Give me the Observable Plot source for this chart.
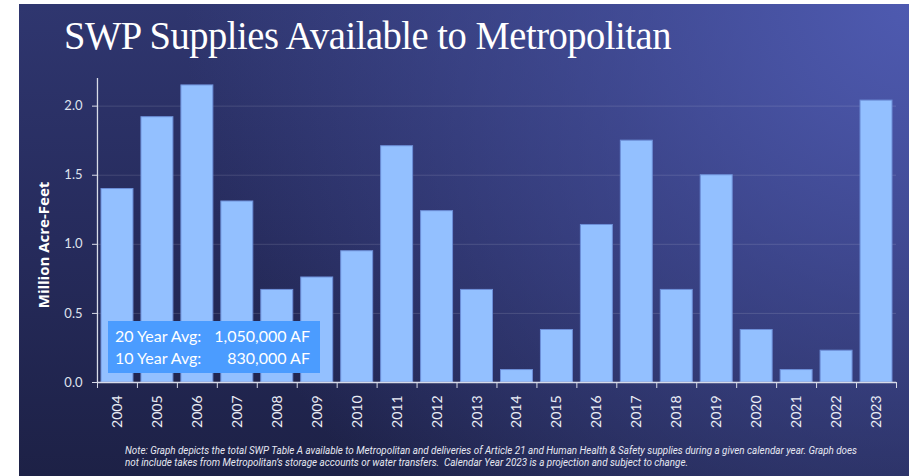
<!DOCTYPE html>
<html>
<head>
<meta charset="utf-8">
<script src="https://cdn.jsdelivr.net/npm/d3@7"></script>
<script src="https://cdn.jsdelivr.net/npm/@observablehq/plot@0.6"></script>
<style>
  html, body { margin: 0; padding: 0; background: #ffffff; overflow: hidden; }
  #wrap { position: relative; width: 909px; height: 476px; overflow: hidden; background: #ffffff; }
  #panel { position: absolute; left: 19px; top: 4px; width: 890px; height: 472px;
    background:
      radial-gradient(circle at 100% 0%, rgba(78,90,176,1) 0%, rgba(78,90,176,0.55) 30%, rgba(78,90,176,0) 72%),
      linear-gradient(to bottom, #2f366f 0%, #262b5c 50%, #1d2146 100%); }
  #title { position: absolute; left: 45px; top: 7px; margin: 0; font-family: "Liberation Serif", serif;
    font-weight: normal; font-size: 41px; line-height: 48px; color: #ffffff; white-space: nowrap;
    transform-origin: 0 0; letter-spacing: -0.5px; width: max-content; }
  #chart { position: absolute; left: 0; top: 66px; width: 890px; }
  #chart svg { max-width: none; }
  #ylabel { position: absolute; left: 24px; top: 241px; width: 0; height: 0; }
  #ylabel span { position: absolute; left: 0; top: 0; transform: translate(-50%, -50%) rotate(-90deg);
    white-space: nowrap; font-family: "Open Sans", Lato, sans-serif; font-weight: bold; font-size: 15px; color: #ffffff; }
  #avg { position: absolute; left: 89px; top: 317px; width: 212px; height: 52px; box-sizing: border-box;
    background: #4b9cff; color: #ffffff; font-family: Lato, "Open Sans", sans-serif; font-size: 16px;
    line-height: 21.5px; }
  #avg .row { position: absolute; left: 7px; right: 10px; height: 21.5px; }
  #avg .lab { position: absolute; left: 0; top: 0; white-space: nowrap; }
  #avg .val { position: absolute; right: 0; top: 0; white-space: nowrap; }
  #note { position: absolute; left: 106px; top: 441px; margin: 0; font-family: Roboto, sans-serif;
    font-style: italic; font-size: 10.2px; line-height: 12px; color: #e6e8f2; }
  #note div { white-space: pre; transform-origin: 0 0; width: max-content; }
</style>
</head>
<body>
<div id="wrap">
  <div id="panel">
    <h1 id="title"></h1>
    <div id="chart"></div>
    <div id="ylabel"><span></span></div>
    <div id="avg"></div>
    <div id="note"></div>
  </div>
</div>
<script>
// ---- data ----
const years = ["2004","2005","2006","2007","2008","2009","2010","2011","2012","2013",
               "2014","2015","2016","2017","2018","2019","2020","2021","2022","2023"];
const supplies = [1.40, 1.92, 2.15, 1.31, 0.67, 0.76, 0.95, 1.71, 1.24, 0.67,
                  0.09, 0.38, 1.14, 1.75, 0.67, 1.50, 0.38, 0.09, 0.23, 2.04];
const yTicks = [0, 0.5, 1.0, 1.5, 2.0];
const yLabel = "Million Acre-Feet";
const titleText = "SWP Supplies Available to Metropolitan";
const avgLabels = ["20 Year Avg:", "10 Year Avg:"];
const avgValues = ["1,050,000 AF", "830,000 AF"];
const noteLines = [
  "Note: Graph depicts the total SWP Table A available to Metropolitan and deliveries of Article 21 and Human Health & Safety supplies during a given calendar year. Graph does",
  "not include takes from Metropolitan\u2019s storage accounts or water transfers.  Calendar Year 2023 is a projection and subject to change."
];

const data = years.map((y, i) => ({year: y, value: supplies[i]}));

// ---- title ----
const title = document.getElementById("title");
title.textContent = titleText;
{
  const w = title.getBoundingClientRect().width;
  title.style.transform = `scaleX(${607 / w})`;
}

// ---- chart ----
const axisColor = "#d8dbe8";
const chart = Plot.plot({
  width: 890,
  height: 374,
  marginLeft: 78,
  marginRight: 13,
  marginTop: 8,
  marginBottom: 62,
  style: {background: "transparent", color: "#e8eaf4", fontFamily: "Lato, 'Open Sans', sans-serif", fontSize: "13px"},
  x: {domain: years, paddingInner: 0.2, paddingOuter: 0.1, round: false, label: null},
  y: {domain: [0, 2.2], label: null},
  marks: [
    Plot.ruleY(yTicks.filter(d => d > 0), {stroke: "#ffffff", strokeOpacity: 0.13, strokeWidth: 1}),
    Plot.barY(data, {x: "year", y: "value", fill: "#93c0ff", stroke: "#6d8fd8", strokeWidth: 1}),
    Plot.ruleY([0], {stroke: axisColor, strokeWidth: 1.3}),
    Plot.ruleX([years[0]], {dx: -20, y1: 0, y2: 2.2, stroke: axisColor, strokeWidth: 1.3}),
    Plot.ruleX(years, {dx: -20, y1: 0, y2: 0, insetBottom: -6, stroke: axisColor}),
    Plot.ruleX([years[years.length - 1]], {dx: 20, y1: 0, y2: 0, insetBottom: -6, stroke: axisColor}),
    Plot.axisX({tickSize: 0, tickRotate: -90, tickPadding: 13, fontSize: 14, label: null, color: "#eceef6"}),
    Plot.axisY({ticks: yTicks, tickFormat: d3.format(".1f"), tickSize: 5, tickPadding: 10, label: null,
                stroke: axisColor, fontSize: 13, color: "#dfe2ee"})
  ]
});
document.getElementById("chart").appendChild(chart);

// ---- y label ----
document.querySelector("#ylabel span").textContent = yLabel;

// ---- average box ----
const avg = document.getElementById("avg");
avgLabels.forEach((l, i) => {
  const row = document.createElement("div");
  row.className = "row";
  row.style.top = (4 + i * 21.5) + "px";
  const a = document.createElement("span"); a.className = "lab"; a.textContent = l;
  const b = document.createElement("span"); b.className = "val"; b.textContent = avgValues[i];
  row.appendChild(a); row.appendChild(b);
  avg.appendChild(row);
});

// ---- note ----
const note = document.getElementById("note");
const targets = [732, 563];
noteLines.forEach((t) => {
  const d = document.createElement("div");
  d.textContent = t;
  note.appendChild(d);
});
[...note.children].forEach((d, i) => {
  const w = d.getBoundingClientRect().width;
  d.style.transform = `scaleX(${targets[i] / w})`;
});
</script>
</body>
</html>
